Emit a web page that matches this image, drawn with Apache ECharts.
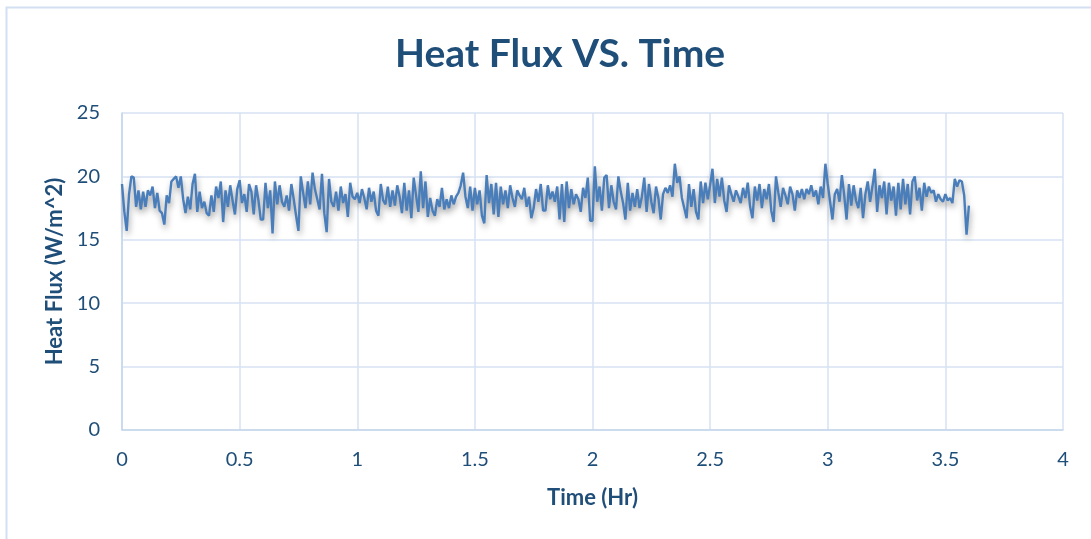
<!DOCTYPE html>
<html>
<head>
<meta charset="utf-8">
<title>Heat Flux VS. Time</title>
<script src="https://cdn.jsdelivr.net/npm/echarts@6/dist/echarts.min.js"></script>
<style>
  html, body { margin: 0; padding: 0; background: #ffffff; }
  #chart { width: 1091px; height: 539px; }
</style>
</head>
<body>
<div id="chart"></div>
<script>
// Sampling interval of the heat flux logger, in hours
const sampleStep = 0.01;

// Heat flux readings (W/m^2), one row per 0.1 h
const heatFlux = [
  19.4, 17.2, 15.7, 18.6, 20.0, 19.9, 17.6, 18.9, 17.4, 18.8,
  17.6, 18.9, 18.5, 19.2, 17.5, 18.7, 17.3, 17.1, 16.2, 18.5,
  17.9, 19.6, 19.8, 20.0, 19.1, 20.0, 18.2, 17.1, 18.4, 17.4,
  19.4, 20.2, 17.2, 18.8, 17.5, 18.0, 17.1, 16.9, 18.5, 17.2,
  19.2, 18.3, 19.6, 16.4, 18.9, 17.6, 19.3, 18.1, 17.0, 19.0,
  19.7, 17.9, 18.6, 17.2, 19.4, 18.8, 17.0, 19.3, 18.1, 16.6,
  16.6, 19.5, 17.5, 18.9, 15.5, 19.6, 17.8, 19.3, 18.0, 17.6,
  18.5, 17.3, 19.4, 18.2, 16.9, 15.7, 20.0, 18.7, 17.5, 19.6,
  17.8, 20.3, 19.0, 18.2, 17.4, 20.2, 17.1, 15.6, 19.8, 18.0,
  17.6, 18.8, 17.3, 19.2, 17.9, 18.6, 16.8, 19.5, 18.4, 18.2,
  18.7, 17.9, 19.0, 18.3, 17.4, 19.1, 18.0, 18.8, 17.3, 16.9,
  19.4, 18.1, 17.8, 19.2, 17.6, 18.9, 17.7, 19.3, 18.4, 17.1,
  19.5, 17.3, 18.9, 16.7, 19.9, 18.5, 17.2, 20.4, 17.5, 19.6,
  16.8, 18.3, 17.3, 16.9, 18.2, 17.6, 19.1, 17.4, 18.2, 17.5,
  18.5, 17.8, 18.4, 18.7, 19.3, 20.3, 18.4, 17.5, 19.2, 17.3,
  19.1, 17.8, 18.9, 16.9, 16.3, 20.1, 17.9, 19.4, 17.0, 19.5,
  16.8, 19.2, 17.8, 18.9, 17.5, 19.3, 18.3, 17.6, 18.9, 18.5,
  18.2, 19.1, 17.6, 18.4, 16.7, 17.5, 19.0, 18.0, 19.4, 17.3,
  17.3, 19.3, 18.2, 18.8, 18.0, 19.2, 16.6, 19.4, 16.4, 19.6,
  17.5, 19.0, 17.8, 18.6, 18.2, 17.2, 19.1, 18.3, 19.9, 16.5,
  16.5, 20.8, 18.0, 19.2, 17.3, 19.9, 20.1, 17.5, 19.3, 18.0,
  17.4, 20.0, 18.8, 17.9, 16.6, 19.5, 17.3, 18.7, 17.6, 19.0,
  17.5, 18.4, 19.9, 17.2, 19.4, 18.0, 17.1, 19.2, 18.3, 16.6,
  18.6, 19.1, 18.7, 19.3, 18.4, 21.0, 19.5, 20.0, 18.3, 17.5,
  16.7, 19.4, 17.6, 19.0, 17.2, 16.6, 19.6, 17.9, 19.5, 18.2,
  19.3, 20.6, 17.9, 19.8, 18.4, 19.9, 18.1, 17.2, 19.3, 18.6,
  18.0, 18.9, 18.4, 17.9, 19.1, 18.3, 19.5, 17.6, 16.7, 19.2,
  18.1, 19.4, 17.5, 19.0, 18.2, 19.4, 17.3, 16.4, 20.0, 18.7,
  17.6, 19.1, 18.5, 17.8, 19.2, 18.6, 17.3, 18.9, 18.3, 19.0,
  18.2, 19.0, 18.6, 19.3, 18.4, 18.9, 17.8, 19.2, 18.3, 21.0,
  19.4, 18.0, 16.6, 18.6, 19.0, 18.0, 20.1, 18.5, 16.6, 19.4,
  17.7, 19.3, 18.1, 17.5, 19.1, 16.7, 18.6, 19.6, 18.0, 19.2,
  20.6, 17.2, 19.3, 18.3, 19.6, 17.0, 19.5, 18.1, 19.2, 16.9,
  19.5, 17.4, 19.8, 17.8, 19.4, 17.0, 19.6, 20.0, 18.1, 19.1,
  17.3, 19.5, 18.4, 19.2, 18.7, 18.9, 18.0, 18.6, 18.2, 18.0,
  18.6, 18.1, 18.3, 17.9, 19.8, 19.2, 19.7, 19.6, 18.5, 15.4,
  17.7
];

// Axis settings
const xTicks = { min: 0, max: 4, interval: 0.5 };
const yTicks = { min: 0, max: 25, interval: 5 };

const textBlue = '#1F4E79';
const gridBlue = '#D6E2F2';
const lineBlue = '#4A7EBB';
const fontFamily = 'Lato, "Open Sans", sans-serif';

// Pair each reading with its elapsed time
const points = heatFlux.map((v, i) => [+(i * sampleStep).toFixed(2), v]);

const chart = echarts.init(document.getElementById('chart'), null, { renderer: 'canvas' });

chart.setOption({
  backgroundColor: '#ffffff',
  animation: false,
  title: {
    text: 'Heat Flux VS. Time',
    left: 390,
    top: 30,
    textStyle: { color: textBlue, fontFamily, fontWeight: 'bold', fontSize: 39 }
  },
  graphic: [{
    type: 'rect',
    shape: { x: 6.5, y: 7.5, width: 1200, height: 700 },
    style: { fill: 'none', stroke: '#D3E0F1', lineWidth: 2 },
    silent: true
  }],
  grid: { left: 122, right: 28, top: 113, bottom: 109 },
  xAxis: {
    type: 'value',
    min: xTicks.min, max: xTicks.max, interval: xTicks.interval,
    name: 'Time (Hr)',
    nameLocation: 'middle',
    nameGap: 57,
    nameTextStyle: { color: textBlue, fontFamily, fontWeight: 'bold', fontSize: 22 },
    axisLine: { show: true, lineStyle: { color: '#C5D6EC', width: 1.5 } },
    axisTick: { show: false },
    axisLabel: { color: textBlue, fontFamily, fontSize: 20, margin: 20 },
    splitLine: { show: true, lineStyle: { color: gridBlue, width: 1.5 } }
  },
  yAxis: {
    type: 'value',
    min: yTicks.min, max: yTicks.max, interval: yTicks.interval,
    name: 'Heat Flux (W/m^2)',
    nameLocation: 'middle',
    nameGap: 56,
    nameTextStyle: { color: textBlue, fontFamily, fontWeight: 'bold', fontSize: 22 },
    axisLine: { show: true, lineStyle: { color: '#C5D6EC', width: 1.5 } },
    axisTick: { show: false },
    axisLabel: { color: textBlue, fontFamily, fontSize: 20, margin: 22 },
    splitLine: { show: true, lineStyle: { color: gridBlue, width: 1.5 } }
  },
  series: [{
    type: 'line',
    data: points,
    showSymbol: false,
    smooth: false,
    lineStyle: {
      color: lineBlue,
      width: 2.4,
      shadowColor: 'rgba(0,0,0,0.35)',
      shadowBlur: 6,
      shadowOffsetX: 1,
      shadowOffsetY: 4
    }
  }]
});
</script>
</body>
</html>
